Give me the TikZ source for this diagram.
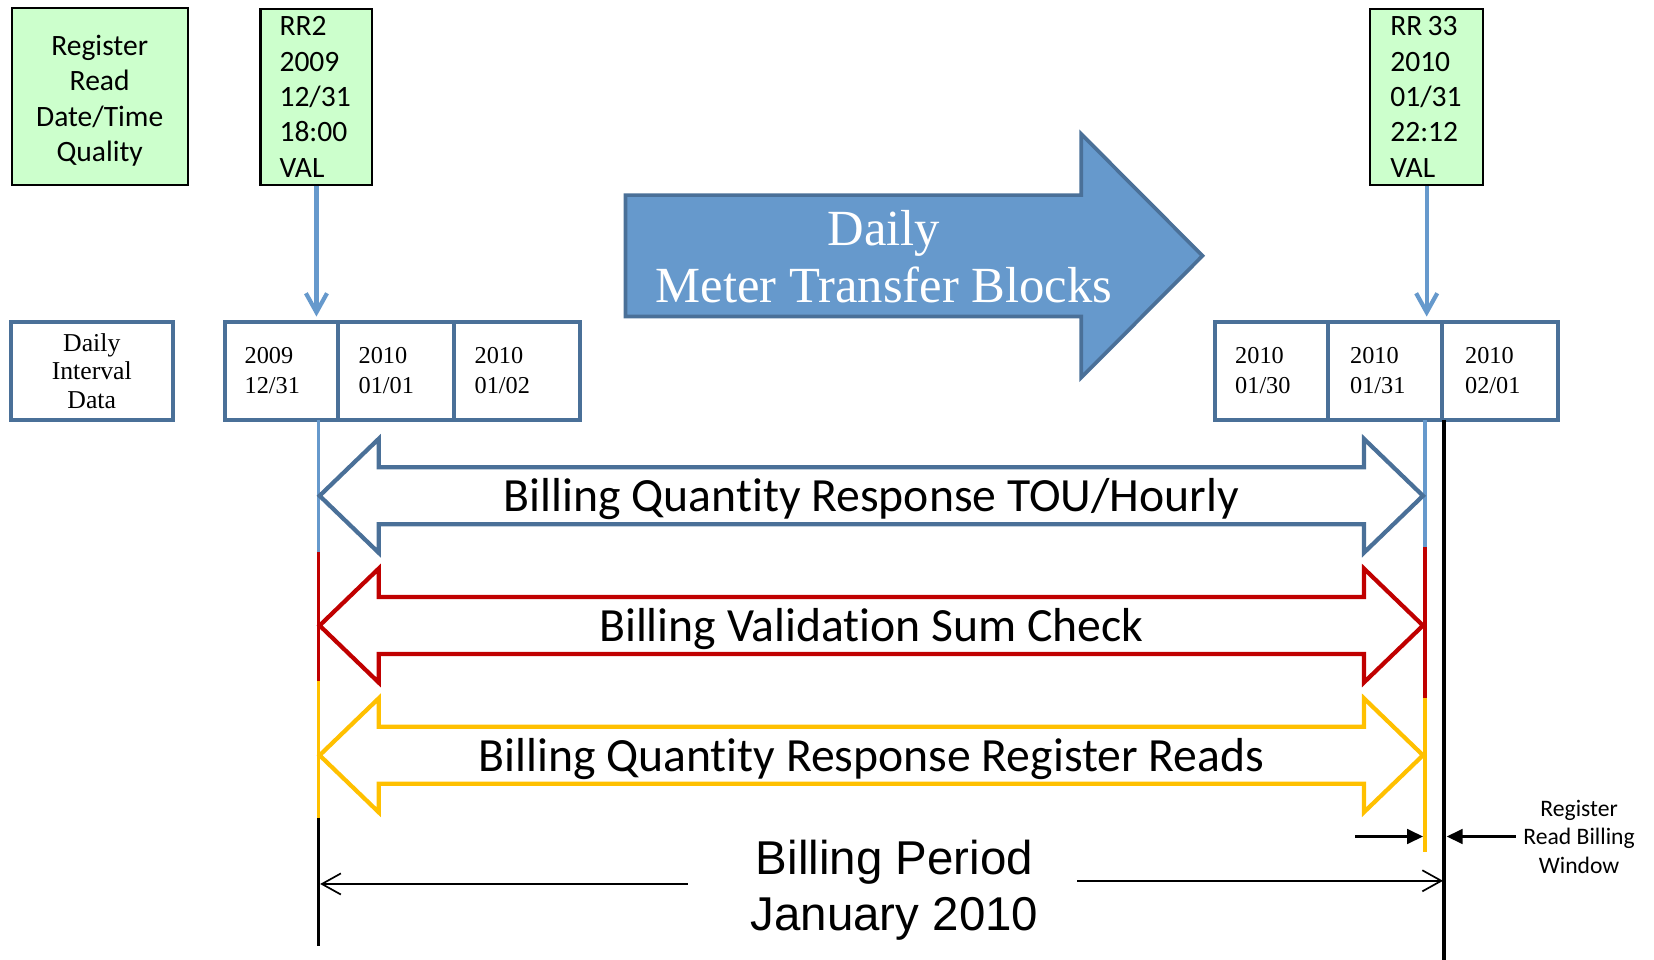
\documentclass[tikz,border=0pt]{standalone}
\usepackage{fontspec}
\setmainfont{Liberation Serif}
\newfontfamily\calibri[Ligatures=NoCommon]{Carlito}
\newfontfamily\arialf{Liberation Sans}
\usetikzlibrary{arrows.meta,calc}
\definecolor{steel}{RGB}{74,112,152}
\definecolor{lb}{RGB}{102,153,204}
\definecolor{afill}{RGB}{102,153,204}
\definecolor{bred}{RGB}{192,0,0}
\definecolor{bgold}{RGB}{255,192,0}
\definecolor{gbg}{RGB}{204,255,204}
\newcommand{\bandarrow}[4]{%
  \draw[bandline, draw=#1] (303,#2) -- (359,{#2-54}) -- (359,{#2-27}) -- (1293,{#2-27}) -- (1293,{#2-54}) -- (1349,#2) -- (1293,{#2+54}) -- (1293,{#2+27}) -- (359,{#2+27}) -- (359,{#2+54}) -- cycle;
  \node[bandlabel] (#3) at (826,{#2+15}) {#4};}
\begin{document}
\begin{tikzpicture}[x=0.5pt,y=-0.5pt,
  greenbox/.style={draw=black, line width=1pt, fill=gbg, inner sep=0pt, minimum height=83.5pt},
  regtext/.style={font=\calibri\fontsize{14}{16.75}\selectfont},
  datebox/.style={draw=steel, line width=1.9pt, minimum height=46.5pt, inner ysep=0pt, font=\fontsize{11.5}{14}\selectfont, align=left},
  bigtext/.style={font=\fontsize{24}{27}\selectfont, text=white, anchor=base, inner sep=0pt},
  bandline/.style={line width=2pt, line join=miter},
  bandlabel/.style={font=\calibri\fontsize{22.6}{27}\selectfont, anchor=base, inner sep=0pt},
  conn/.style={draw=lb, line width=2pt, -{Straight Barb[length=9pt,width=10pt]}},
  vline/.style={line width=1.7pt},
  bptext/.style={font=\arialf\fontsize{22.5}{26.5}\selectfont, anchor=base, inner sep=0pt},
  bparrow/.style={line width=0.8pt, -{Straight Barb[length=9pt,width=10pt]}},
  winarrow/.style={line width=1pt, -{Triangle[length=7.5pt,width=7pt]}}
]
\useasboundingbox (0,0) rectangle (1568,910);

% green register read boxes
\node[greenbox, minimum width=83.5pt, align=center, regtext] (legend) at (94.5,91.5) {\rule{0pt}{3pt}\\[-6pt]Register\\Read\\Date/Time\\Quality};
\node[greenbox, minimum width=53pt, text width=35pt, inner xsep=9pt, align=left, regtext] (rr2) at (300,92) {RR2\\2009\\12/31\\18:00\\VAL};
\node[greenbox, minimum width=53.5pt, text width=34.5pt, inner xsep=9.5pt, align=left, regtext] (rr33) at (1352.5,92) {RR\hspace{0.18em}33\\2010\\01/31\\22:12\\VAL};

% daily interval data
\node[datebox, minimum width=77pt, align=center, inner xsep=0pt, font=\fontsize{12.2}{13.5}\selectfont] (did) at (87,351.5) {Daily\\Interval\\Data};

% date boxes
\node[datebox, minimum width=53.5pt, text width=34.5pt, inner xsep=9.5pt] (d1) at (266.5,351.5) {2009\\12/31};
\node[datebox, minimum width=55pt, text width=35pt, inner xsep=10pt] (d2) at (375,351.5) {2010\\01/01};
\node[datebox, minimum width=60pt, text width=40pt, inner xsep=10pt] (d3) at (490,351.5) {2010\\01/02};
\node[datebox, minimum width=53.5pt, text width=34.5pt, inner xsep=9.5pt] (d4) at (1205.5,351.5) {2010\\01/30};
\node[datebox, minimum width=54pt, text width=33pt, inner xsep=10.5pt] (d5) at (1313,351.5) {2010\\01/31};
\node[datebox, minimum width=55pt, text width=33pt, inner xsep=11pt] (d6) at (1422,351.5) {2010\\02/01};

% connectors from register reads
\draw[conn, shorten >=1.5pt] (rr2.south) -- (rr2.south |- d1.north);
\draw[conn, shorten >=1.5pt] (rr33.south) -- (rr33.south |- d5.north);

% big block arrow
\draw[line width=1.75pt, draw=steel, fill=afill] (593,185) -- (1025,185) -- (1025,127) -- (1140,242.5) -- (1025,358) -- (1025,300) -- (593,300) -- cycle;
\node[bigtext] (daily) at (838,233) {Daily};
\node[bigtext] (mtb) at (838,287) {Meter Transfer Blocks};

% vertical marker lines
\coordinate (la) at (302,398);
\coordinate (lb1) at (302,523);
\coordinate (lc) at (302,646);
\coordinate (ld) at (302,775);
\coordinate (le) at (302,897);
\draw[vline, lb] (la) -- (lb1);
\draw[vline, bred] (lb1) -- (lc);
\draw[vline, bgold] (lc) -- (ld);
\draw[line width=1.75pt, black] (ld) -- (le);

\coordinate (ra) at (1351,398);
\coordinate (rb) at (1351,519);
\coordinate (rc) at (1351,662);
\coordinate (rd) at (1351,808);
\draw[vline, lb] (ra) -- (rb);
\draw[vline, bred] (rb) -- (rc);
\draw[vline, bgold] (rc) -- (rd);
\coordinate (ka) at (1369,398);
\coordinate (kb) at (1369,910);
\draw[line width=1.75pt, black] (ka) -- (kb);

% double arrows
\bandarrow{steel}{470}{tou}{Billing Quantity Response TOU/Hourly}
\bandarrow{bred}{593}{vsc}{Billing Validation Sum Check}
\bandarrow{bgold}{716}{rrr}{Billing Quantity Response Register Reads}

% billing period
\node[bptext] (bp1) at (848,829) {Billing Period};
\node[bptext] (bp2) at (848,882) {January 2010};
\coordinate (bpl0) at (652,838);
\coordinate (bpl1) at (303.5,838);
\coordinate (bpr0) at (1021,835);
\coordinate (bpr1) at (1368,835);
\draw[bparrow] (bpl0) -- (bpl1);
\draw[bparrow] (bpr0) -- (bpr1);

% register read billing window
\node[font=\calibri\fontsize{11.2}{13.5}\selectfont, align=center, inner sep=0pt] (rrbw) at (1497,793) {Register\\Read Billing\\Window};
\coordinate (wa0) at (1285,793);
\coordinate (wa1) at (1349,793);
\coordinate (wb0) at (1437,793);
\coordinate (wb1) at (1371.5,793);
\draw[winarrow] (wa0) -- (wa1);
\draw[winarrow] (wb0) -- (wb1);
\end{tikzpicture}
\end{document}
